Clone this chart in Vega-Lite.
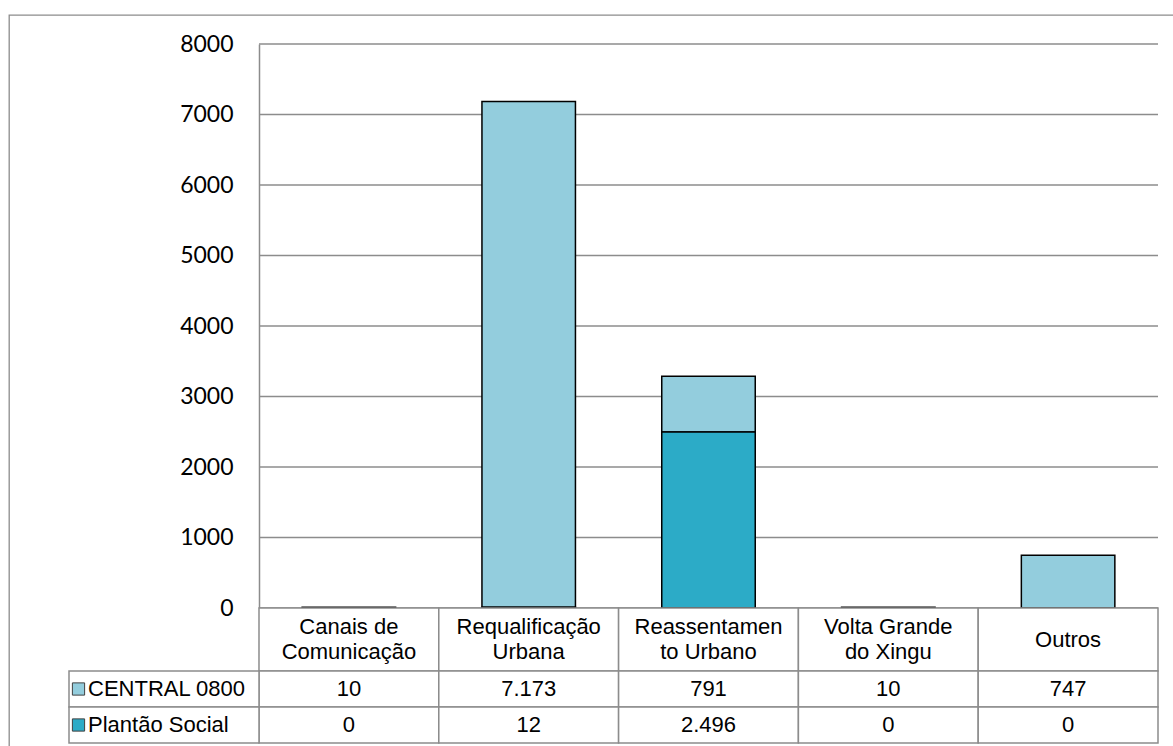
{
  "$schema": "https://vega.github.io/schema/vega-lite/v6.json",
  "width": 1168,
  "height": 735,
  "autosize": {"type": "none"},
  "padding": {"left": 9, "top": 15, "right": -4, "bottom": -4},
  "background": "white",
  "config": {
    "view": {"stroke": "#8c8c8c", "strokeWidth": 1.3},
    "locale": {"number": {"decimal": ",", "thousands": ".", "grouping": [3], "currency": ["R$", ""]}},
    "text": {"font": "Liberation Sans", "fontSize": 22, "color": "black"}
  },
  "datasets": {
    "valores": [
      {"categoria": "Canais de Comunicação", "serie": "CENTRAL 0800", "valor": 10},
      {"categoria": "Requalificação Urbana", "serie": "CENTRAL 0800", "valor": 7173},
      {"categoria": "Reassentamento Urbano", "serie": "CENTRAL 0800", "valor": 791},
      {"categoria": "Volta Grande do Xingu", "serie": "CENTRAL 0800", "valor": 10},
      {"categoria": "Outros", "serie": "CENTRAL 0800", "valor": 747},
      {"categoria": "Canais de Comunicação", "serie": "Plantão Social", "valor": 0},
      {"categoria": "Requalificação Urbana", "serie": "Plantão Social", "valor": 12},
      {"categoria": "Reassentamento Urbano", "serie": "Plantão Social", "valor": 2496},
      {"categoria": "Volta Grande do Xingu", "serie": "Plantão Social", "valor": 0},
      {"categoria": "Outros", "serie": "Plantão Social", "valor": 0}
    ],
    "categorias": [
      {"categoria": "Canais de Comunicação", "rotulo": "Canais de\nComunicação"},
      {"categoria": "Requalificação Urbana", "rotulo": "Requalificação\nUrbana"},
      {"categoria": "Reassentamento Urbano", "rotulo": "Reassentamen\nto Urbano"},
      {"categoria": "Volta Grande do Xingu", "rotulo": "Volta Grande\ndo Xingu"},
      {"categoria": "Outros", "rotulo": "Outros"}
    ],
    "series": [{"serie": "CENTRAL 0800"}, {"serie": "Plantão Social"}],
    "grade": [{"v": 0}, {"v": 1000}, {"v": 2000}, {"v": 3000}, {"v": 4000}, {"v": 5000}, {"v": 6000}, {"v": 7000}, {"v": 8000}]
  },
  "layer": [
    {
      "layer": [
        {
          "data": {"name": "grade"},
          "mark": {"type": "rule", "color": "#8c8c8c", "strokeWidth": 1.5},
          "encoding": {
            "x": {"datum": "Canais de Comunicação", "type": "nominal", "bandPosition": 0,
              "scale": {"domain": ["Canais de Comunicação", "Requalificação Urbana", "Reassentamento Urbano", "Volta Grande do Xingu", "Outros"], "range": [250, 1149], "paddingInner": 0, "paddingOuter": 0},
              "axis": null},
            "x2": {"datum": "Outros", "bandPosition": 1},
            "y": {"field": "v", "type": "quantitative", "stack": null,
              "scale": {"domain": [0, 8000], "range": [593, 29], "nice": false},
              "axis": {"orient": "left", "offset": -250, "values": [0, 1000, 2000, 3000, 4000, 5000, 6000, 7000, 8000],
                "grid": false,
                "domain": true, "domainColor": "#8c8c8c", "domainWidth": 1.5,
                "ticks": false, "labelFont": "Lato", "labelFontSize": 23, "labelColor": "black", "labelPadding": 26,
                "title": null, "format": "d"}}
          }
        },
        {
          "data": {"name": "valores"},
          "transform": [{"filter": "datum.valor > 0"}],
          "mark": {"type": "bar", "width": {"band": 0.52}, "stroke": "black", "strokeWidth": 1.5},
          "encoding": {
            "x": {"field": "categoria", "type": "nominal", "axis": null},
            "y": {"field": "valor", "type": "quantitative", "stack": "zero",
              "axis": {"orient": "left", "offset": -250, "values": [0, 1000, 2000, 3000, 4000, 5000, 6000, 7000, 8000],
                "grid": false,
                "domain": true, "domainColor": "#8c8c8c", "domainWidth": 1.5,
                "ticks": false, "labelFont": "Lato", "labelFontSize": 23, "labelColor": "black", "labelPadding": 26,
                "title": null, "format": "d"}},
            "color": {"field": "serie", "type": "nominal",
              "scale": {"domain": ["CENTRAL 0800", "Plantão Social"], "range": ["#93CDDD", "#2CABC7"]}, "legend": null},
            "order": {"field": "serie", "sort": "descending"}
          }
        }
      ]
    },
    {
      "data": {"name": "categorias"},
      "encoding": {
        "x": {"field": "categoria", "type": "nominal",
          "scale": {"domain": ["Canais de Comunicação", "Requalificação Urbana", "Reassentamento Urbano", "Volta Grande do Xingu", "Outros"], "range": [250, 1149], "paddingInner": 0, "paddingOuter": 0},
          "axis": null},
        "y": {"datum": "cabeçalho", "type": "nominal", "scale": {"range": [593, 656], "paddingInner": 0, "paddingOuter": 0}, "axis": null}
      },
      "layer": [
        {"mark": {"type": "rect", "fill": "white", "stroke": "#8c8c8c", "strokeWidth": 1.5}},
        {"transform": [{"filter": "indexof(datum.rotulo, '\\n') >= 0"}],
          "mark": {"type": "text", "lineBreak": "\n", "lineHeight": 25, "dy": -12.5}, "encoding": {"text": {"field": "rotulo"}}},
        {"transform": [{"filter": "indexof(datum.rotulo, '\\n') < 0"}],
          "mark": {"type": "text"}, "encoding": {"text": {"field": "rotulo"}}}
      ]
    },
    {
      "data": {"name": "valores"},
      "encoding": {
        "x": {"field": "categoria", "type": "nominal",
          "scale": {"domain": ["Canais de Comunicação", "Requalificação Urbana", "Reassentamento Urbano", "Volta Grande do Xingu", "Outros"], "range": [250, 1149], "paddingInner": 0, "paddingOuter": 0},
          "axis": null},
        "y": {"field": "serie", "type": "nominal",
          "scale": {"domain": ["CENTRAL 0800", "Plantão Social"], "range": [656, 728], "paddingInner": 0, "paddingOuter": 0}, "axis": null}
      },
      "layer": [
        {"mark": {"type": "rect", "fill": "white", "stroke": "#8c8c8c", "strokeWidth": 1.5}},
        {"mark": {"type": "text"}, "encoding": {"text": {"field": "valor", "type": "quantitative", "format": ",d"}}}
      ]
    },
    {
      "data": {"name": "series"},
      "encoding": {
        "x": {"datum": "Legenda", "type": "nominal", "scale": {"range": [60, 250], "paddingInner": 0, "paddingOuter": 0}, "axis": null},
        "y": {"field": "serie", "type": "nominal",
          "scale": {"domain": ["CENTRAL 0800", "Plantão Social"], "range": [656, 728], "paddingInner": 0, "paddingOuter": 0}, "axis": null}
      },
      "layer": [
        {"mark": {"type": "rect", "fill": "white", "stroke": "#8c8c8c", "strokeWidth": 1.5}},
        {"mark": {"type": "point", "shape": "square", "size": 150, "filled": true, "stroke": "#404040", "strokeWidth": 1, "opacity": 1},
          "encoding": {
            "x": {"datum": "Legenda", "type": "nominal", "bandPosition": 0.05},
            "color": {"field": "serie", "type": "nominal", "legend": null}
          }},
        {"mark": {"type": "text", "align": "left"},
          "encoding": {
            "x": {"datum": "Legenda", "type": "nominal", "bandPosition": 0.1},
            "text": {"field": "serie"}
          }}
      ]
    }
  ],
  "resolve": {"scale": {"x": "independent", "y": "independent"}}
}
